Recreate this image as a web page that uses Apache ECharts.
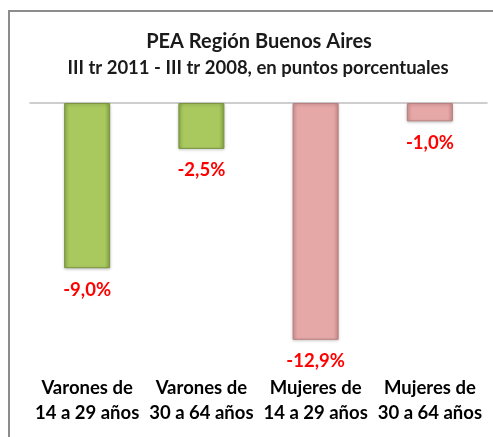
<!DOCTYPE html>
<html><head><meta charset="utf-8">
<script src="https://cdn.jsdelivr.net/npm/echarts@6/dist/echarts.min.js"></script>
<style>html,body{margin:0;padding:0;background:#fff}#c{width:493px;height:437px}</style>
</head><body><div id="c"></div>
<script>
const categories = ["Varones de\n14 a 29 años", "Varones de\n30 a 64 años", "Mujeres de\n14 a 29 años", "Mujeres de\n30 a 64 años"];
const values = [-9.0, -2.5, -12.9, -1.0];
const barColors = ["green", "green", "pink", "pink"];
const titleText = "PEA Región Buenos Aires";
const subtitleText = "III tr 2011 - III tr 2008, en puntos porcentuales";

const FONT = "Lato, 'Open Sans', sans-serif";
const styles = {
  green: {
    color: {type:'linear',x:0,y:0,x2:1,y2:0,colorStops:[{offset:0,color:'#90b04c'},{offset:0.12,color:'#a9c95f'},{offset:0.88,color:'#a9c95f'},{offset:1,color:'#88a645'}]},
    borderColor: '#7a9440'
  },
  pink: {
    color: {type:'linear',x:0,y:0,x2:1,y2:0,colorStops:[{offset:0,color:'#d49494'},{offset:0.12,color:'#e6a7a7'},{offset:0.88,color:'#e6a7a7'},{offset:1,color:'#cf8f8f'}]},
    borderColor: '#b88080'
  }
};

const chart = echarts.init(document.getElementById('c'));
chart.setOption({
  animation: false,
  backgroundColor: '#fff',
  graphic: [
    {type:'rect', shape:{x:9, y:11, width:520, height:460}, style:{fill:'none', stroke:'#8c8c8c', lineWidth:2}},
    {type:'text', x:259, y:42, style:{text:titleText, align:'center', verticalAlign:'middle', font:"bold 20px " + FONT, fill:'#1a1a1a'}},
    {type:'text', x:258, y:68, style:{text:subtitleText, align:'center', verticalAlign:'middle', font:"bold 18.5px " + FONT, fill:'#1a1a1a'}}
  ],
  grid: {left: 30, right: 6, top: 103, bottom: 77},
  xAxis: [
    {type:'category', data: categories, position:'bottom', axisLine:{show:false}, axisTick:{show:false},
     axisLabel:{interval:0, margin:16, fontFamily:FONT, fontSize:18.5, fontWeight:'bold', color:'#000', lineHeight:25}},
    {type:'category', data: categories, position:'top', axisLine:{show:true, lineStyle:{color:'#bfbfbf', width:1.5}}, axisTick:{show:false}, axisLabel:{show:false}}
  ],
  yAxis: {type:'value', min:-14, max:0, show:false, splitLine:{show:false}},
  series: [{
    type:'bar', barWidth: 46, xAxisIndex: 0,
    data: values.map((v,i)=>({value:v, itemStyle:{color:styles[barColors[i]].color, borderColor:styles[barColors[i]].borderColor, borderWidth:1, shadowColor:'rgba(0,0,0,0.25)', shadowBlur:3, shadowOffsetY:1}})),
    label: {show:true, position:'bottom', distance:12, fontFamily:FONT, fontSize:18.5, fontWeight:'bold', color:'#ff0000',
      formatter: p => p.value.toFixed(1).replace('.', ',') + '%'}
  }]
});
</script></body></html>
